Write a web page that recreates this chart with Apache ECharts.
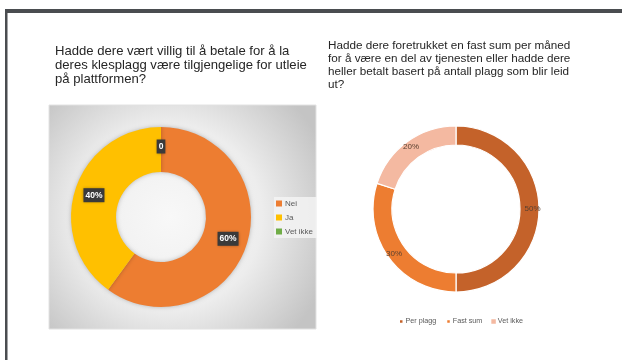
<!DOCTYPE html>
<html>
<head>
<meta charset="utf-8">
<script src="https://cdn.jsdelivr.net/npm/echarts@6/dist/echarts.min.js"></script>
<style>
html,body{margin:0;padding:0;background:#fff;}
#chart{width:622px;height:360px;}
</style>
</head>
<body>
<div id="chart"></div>
<script>
// Data
const leftTitle = 'Hadde dere vært villig til å betale for å la\nderes klesplagg være tilgjengelige for utleie\npå plattformen?';
const leftCategories = ['Nei', 'Ja', 'Vet ikke'];
const leftValues = [60, 40, 0];
const leftColors = ['#ED7D31', '#FFC000', '#70AD47'];

const rightTitle = 'Hadde dere foretrukket en fast sum per måned\nfor å være en del av tjenesten eller hadde dere\nheller betalt basert på antall plagg som blir leid\nut?';
const rightCategories = ['Per plagg', 'Fast sum', 'Vet ikke'];
const rightValues = [50, 30, 20];
const rightColors = ['#C4622A', '#ED7D31', '#F4B9A1'];

const FONT = '"Liberation Sans", Arial, sans-serif';

const chart = echarts.init(document.getElementById('chart'), null, {renderer: 'canvas'});

const option = {
  animation: false,
  backgroundColor: '#ffffff',
  graphic: [
    {type: 'rect', shape: {x: 5, y: 9, width: 617, height: 4}, style: {fill: '#4a4d50'}, z: 0},
    {type: 'rect', shape: {x: 5, y: 9, width: 2.5, height: 351}, style: {fill: '#4a4d50'}, z: 0},
    {type: 'rect', shape: {x: 49, y: 105, width: 267, height: 224},
      style: {
        fill: {type: 'radial', x: 0.45, y: 0.5, r: 0.75,
          colorStops: [{offset: 0, color: '#f8f8f8'}, {offset: 0.55, color: '#ededed'}, {offset: 1, color: '#c4c4c4'}]},
        stroke: '#e2e2e2', lineWidth: 1
      }, z: -1}
  ],
  title: [
    {text: leftTitle, left: 50, top: 39.5,
      textStyle: {fontFamily: FONT, fontSize: 13.1, fontWeight: 'normal', color: '#262626', lineHeight: 13.8}},
    {text: rightTitle, left: 323, top: 34.5,
      textStyle: {fontFamily: FONT, fontSize: 11.7, fontWeight: 'normal', color: '#262626', lineHeight: 12.9}}
  ],
  legend: [
    {
      data: leftCategories.map((c, i) => ({name: c, itemStyle: {color: leftColors[i]}})),
      orient: 'vertical',
      left: 274, top: 197,
      itemWidth: 6, itemHeight: 6, itemGap: 5,
      backgroundColor: 'rgba(245,245,245,0.8)',
      padding: [2, 4, 2, 2],
      icon: 'rect',
      selectedMode: false,
      textStyle: {fontFamily: FONT, fontSize: 8, color: '#595959', padding: [0, 0, 0, -2], lineHeight: 9}
    },
    {
      data: rightCategories.map((c, i) => ({name: c, itemStyle: {color: rightColors[i]}})),
      orient: 'horizontal',
      left: 393, top: 313,
      itemWidth: 4.5, itemHeight: 4.5, itemGap: 9,
      icon: 'rect',
      selectedMode: false,
      textStyle: {fontFamily: FONT, fontSize: 7.2, color: '#595959', padding: [0, 0, 0, -3]}
    }
  ],
  series: [
    {
      type: 'pie',
      center: [161, 217],
      radius: [45, 90],
      startAngle: 90,
      clockwise: true,
      legendHoverLink: false,
      avoidLabelOverlap: false,
      data: leftCategories.map((c, i) => ({name: c, value: leftValues[i], itemStyle: {color: leftColors[i]}})),
      itemStyle: {shadowBlur: 4, shadowColor: 'rgba(0,0,0,0.25)'},
      label: {
        show: true,
        position: 'inside',
        formatter: p => p.value === 0 ? '0' : Math.round(p.percent) + '%',
        backgroundColor: '#3a3a3a',
        color: '#ffffff',
        fontFamily: FONT,
        fontSize: 8.5,
        fontWeight: 'bold',
        padding: [3, 2, 2, 2],
        shadowBlur: 3, shadowColor: 'rgba(0,0,0,0.4)'
      },
      labelLine: {show: false},
      emphasis: {disabled: true}
    },
    {
      type: 'pie',
      center: [456, 209],
      radius: [64, 83],
      startAngle: 90,
      clockwise: true,
      avoidLabelOverlap: false,
      data: rightCategories.map((c, i) => ({name: c, value: rightValues[i], itemStyle: {color: rightColors[i]}})),
      itemStyle: {borderColor: '#ffffff', borderWidth: 1.2},
      label: {
        show: true,
        position: 'inside',
        formatter: p => Math.round(p.percent) + '%',
        color: '#5a4030',
        fontFamily: FONT,
        fontSize: 8
      },
      labelLine: {show: false},
      emphasis: {disabled: true}
    }
  ]
};

chart.setOption(option);
</script>
</body>
</html>
